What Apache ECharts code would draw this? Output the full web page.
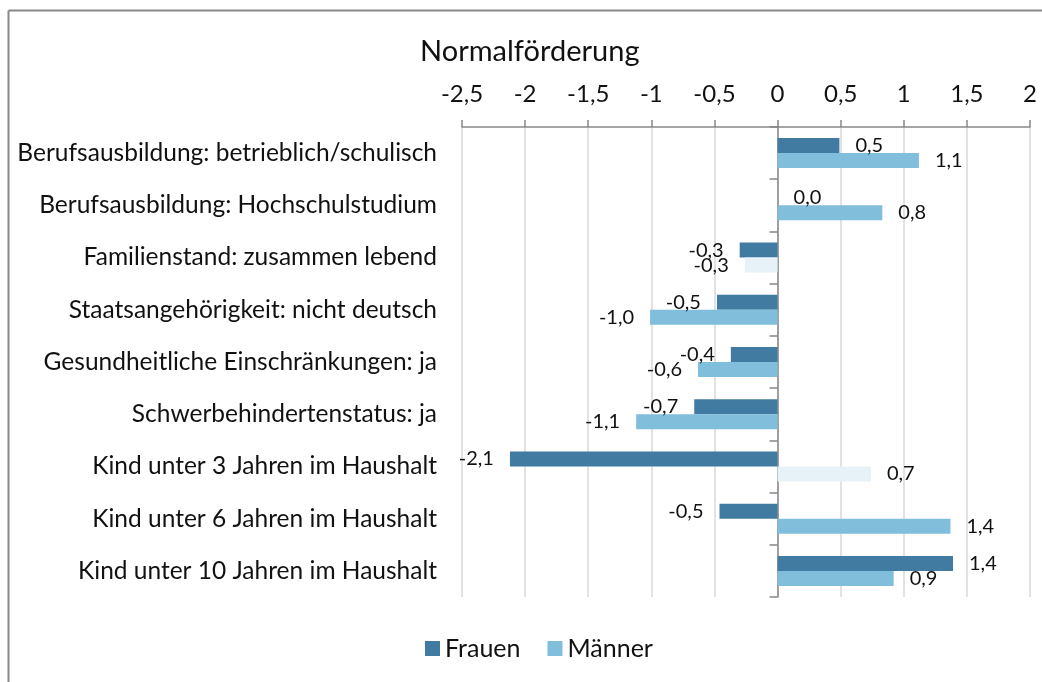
<html>
    <head>
        <meta charset="utf-8">
        <script src="https://cdn.jsdelivr.net/npm/echarts@6/dist/echarts.min.js"></script>
    </head>
    <body>
        <style>
            html, body, #main {
                width: 100%;
                height: 100%;
                margin: 0;
                background: #fff;
            }
        </style>
        <div id="main"></div>
        <script>

        var kategorien = [
            'Berufsausbildung: betrieblich/schulisch',
            'Berufsausbildung: Hochschulstudium',
            'Familienstand: zusammen lebend',
            'Staatsangehörigkeit: nicht deutsch',
            'Gesundheitliche Einschränkungen: ja',
            'Schwerbehindertenstatus: ja',
            'Kind unter 3 Jahren im Haushalt',
            'Kind unter 6 Jahren im Haushalt',
            'Kind unter 10 Jahren im Haushalt'
        ];
        var frauen = [0.49, 0.0, -0.30, -0.48, -0.37, -0.66, -2.12, -0.46, 1.39];
        var maenner = [1.12, 0.83, -0.26, -1.01, -0.63, -1.12, 0.74, 1.37, 0.92];
        // nicht signifikant -> blasse Balken
        var maennerBlass = [false, false, true, false, false, false, true, false, false];

        var FONT = 'Lato';
        var colFrauen = '#427ba1';
        var colMaenner = '#80bedc';
        var colBlass = '#e7f1f8';

        function fmt(v) {
            return v.toFixed(1).replace('.', ',');
        }

        function buildData(values, blass) {
            return values.map(function (v, i) {
                var item = {
                    value: v,
                    label: { position: v < 0 ? 'left' : 'right' }
                };
                if (blass && blass[i]) {
                    item.itemStyle = { color: colBlass };
                }
                return item;
            });
        }

        var labelStyle = {
            show: true,
            distance: 16,
            fontFamily: FONT,
            fontSize: 20,
            color: '#111',
            formatter: function (p) { return fmt(p.value); }
        };

        var chart = echarts.init(document.getElementById('main'));

        chart.setOption({
            animation: false,
            textStyle: { fontFamily: FONT },
            title: {
                text: 'Normalförderung',
                left: 415,
                top: 32,
                textStyle: { fontFamily: FONT, fontSize: 29, fontWeight: 'normal', color: '#111' }
            },
            legend: {
                bottom: 16,
                left: 420,
                itemWidth: 15,
                itemHeight: 15,
                itemGap: 27,
                icon: 'rect',
                textStyle: { fontFamily: FONT, fontSize: 25, color: '#111' },
                data: ['Frauen', 'Männer']
            },
            graphic: [
                { type: 'line', shape: { x1: 8.5, y1: 10.5, x2: 1042, y2: 10.5 }, style: { stroke: '#888', lineWidth: 2 } },
                { type: 'line', shape: { x1: 8.5, y1: 10.5, x2: 8.5, y2: 682 }, style: { stroke: '#888', lineWidth: 2 } }
            ],
            grid: {
                left: 462,
                right: 12,
                top: 127,
                bottom: 85
            },
            xAxis: {
                type: 'value',
                position: 'top',
                min: -2.5,
                max: 2,
                interval: 0.5,
                axisLine: { show: true, lineStyle: { color: '#888', width: 1.5 } },
                axisTick: { show: true, length: 7, lineStyle: { color: '#888', width: 1.5 } },
                axisLabel: {
                    margin: 21,
                    fontFamily: FONT,
                    fontSize: 24,
                    color: '#111',
                    formatter: function (v) { return String(v).replace('.', ','); }
                },
                splitLine: { show: true, lineStyle: { color: '#d9d9d9', width: 1.5 } }
            },
            yAxis: [
                {
                    type: 'category',
                    inverse: true,
                    data: kategorien,
                    axisLine: { show: false, onZero: false },
                    axisTick: { show: false },
                    axisLabel: { margin: 25, fontFamily: FONT, fontSize: 24.5, color: '#111' }
                },
                {
                    type: 'category',
                    inverse: true,
                    data: kategorien,
                    position: 'left',
                    axisLine: { show: true, onZero: true, lineStyle: { color: '#888', width: 1.5 } },
                    axisTick: { show: true, length: 8, lineStyle: { color: '#888', width: 1.5 } },
                    axisLabel: { show: false }
                }
            ],
            series: [
                {
                    name: 'Frauen',
                    type: 'bar',
                    yAxisIndex: 0,
                    barWidth: 15,
                    barGap: '0%',
                    itemStyle: { color: colFrauen },
                    label: labelStyle,
                    data: buildData(frauen)
                },
                {
                    name: 'Männer',
                    type: 'bar',
                    yAxisIndex: 0,
                    barWidth: 15,
                    barGap: '0%',
                    itemStyle: { color: colMaenner },
                    label: labelStyle,
                    data: buildData(maenner, maennerBlass)
                }
            ]
        });

        </script>
    </body>
</html>
